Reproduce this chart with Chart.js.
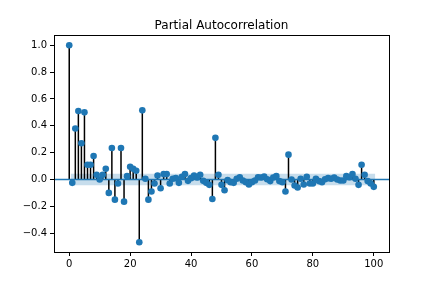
<!DOCTYPE html>
<html>
<head>
<meta charset="utf-8">
<script src="https://cdn.jsdelivr.net/npm/chart.js@4/dist/chart.umd.min.js"></script>
<style>
  html, body { margin: 0; padding: 0; background: #fff; }
  #wrap { width: 432px; height: 288px; }
</style>
</head>
<body>
<div id="wrap"><canvas id="pacf"></canvas></div>
<script>
// ── Data ────────────────────────────────────────────────────────
const PACF = [
  1.0, -0.025, 0.38, 0.51, 0.27, 0.50, 0.11, 0.11, 0.175, 0.035,
  0.0, 0.035, 0.08, -0.10, 0.235, -0.15, -0.03, 0.235, -0.165, 0.025,
  0.095, 0.08, 0.065, -0.467, 0.515, 0.005, -0.15, -0.09, -0.03, 0.03,
  -0.065, 0.04, 0.04, -0.03, 0.005, 0.01, -0.025, 0.02, 0.04, -0.01,
  0.01, 0.03, 0.015, 0.035, -0.01, -0.025, -0.04, -0.145, 0.31, 0.035,
  -0.04, -0.08, -0.005, -0.02, -0.025, 0.005, 0.017, -0.007, -0.02, -0.037,
  -0.02, -0.007, 0.017, 0.015, 0.022, 0.002, -0.012, 0.015, 0.025, -0.012,
  -0.02, -0.09, 0.185, 0.0, -0.045, -0.06, 0.005, -0.037, 0.02, -0.03,
  -0.03, 0.005, -0.012, -0.02, 0.002, 0.01, 0.005, 0.015, 0.0, -0.007,
  -0.007, 0.025, 0.017, 0.04, 0.005, -0.04, 0.11, 0.035, -0.012, -0.03,
  -0.055
];
const LAGS = PACF.map((_, i) => i);
const CONF = 0.042;                       // half width of confidence band
const BAND_X = [0.5, 100.5];
const X_TICKS = [0, 20, 40, 60, 80, 100];
const Y_TICKS = [-0.4, -0.2, 0.0, 0.2, 0.4, 0.6, 0.8, 1.0];
const X_RANGE = [-5, 105];
const Y_RANGE = [-0.54, 1.073];

// ── Colors ──────────────────────────────────────────────────────
const C0 = '#1f77b4';
const BAND_FILL = 'rgba(31,119,180,0.25)';
const STEM = '#000';

const FONT = { family: 'DejaVu Sans', size: 10 };
const fmt = v => (v < 0 ? '\u2212' : '') + Math.abs(v).toFixed(1);

// stems: one line dataset, each stem 0 -> value, broken by a null point
const stemPoints = [];
LAGS.forEach(i => {
  stemPoints.push({ x: i, y: 0 }, { x: i, y: PACF[i] }, { x: i, y: null });
});

// draw the full axes box like matplotlib
const boxPlugin = {
  id: 'box',
  afterDraw(chart) {
    const { ctx, chartArea: a } = chart;
    ctx.save();
    ctx.strokeStyle = '#000';
    ctx.lineWidth = 1;
    ctx.strokeRect(Math.round(a.left) + 0.5, Math.round(a.top) + 0.5,
      Math.round(a.right - a.left), Math.round(a.bottom - a.top));
    ctx.restore();
  }
};

new Chart(document.getElementById('pacf'), {
  type: 'scatter',
  data: {
    datasets: [
      {
        type: 'scatter',
        data: LAGS.map(i => ({ x: i, y: PACF[i] })),
        backgroundColor: C0,
        borderWidth: 0,
        pointRadius: 3.3,
        order: 0,
      },
      {
        type: 'line',
        data: stemPoints,
        borderColor: STEM,
        borderWidth: 1.5,
        borderCapStyle: 'butt',
        pointRadius: 0,
        spanGaps: false,
        order: 2,
      },
      {
        type: 'line',
        data: X_RANGE.map(x => ({ x, y: 0 })),
        borderColor: C0,
        borderWidth: 1.6,
        pointRadius: 0,
        order: 1,
      },
      {
        type: 'line',
        data: BAND_X.map(x => ({ x, y: CONF })),
        borderWidth: 0,
        pointRadius: 0,
        fill: false,
        order: 3,
      },
      {
        type: 'line',
        data: BAND_X.map(x => ({ x, y: -CONF })),
        borderWidth: 0,
        pointRadius: 0,
        backgroundColor: BAND_FILL,
        fill: '-1',
        order: 3,
      },
    ],
  },
  options: {
    responsive: true,
    maintainAspectRatio: false,
    animation: false,
    layout: { padding: { left: 11, right: 0, top: 0, bottom: 0 } },
    plugins: {
      legend: { display: false },
      tooltip: { enabled: false },
      title: {
        display: true,
        text: 'Partial Autocorrelation',
        color: '#000',
        font: { family: 'DejaVu Sans', size: 12, weight: 'normal' },
        padding: { top: 19, bottom: 2 },
      },
    },
    scales: {
      x: {
        type: 'linear',
        min: X_RANGE[0],
        max: X_RANGE[1],
        afterBuildTicks: s => { s.ticks = X_TICKS.map(v => ({ value: v })); },
        afterFit: s => { s.height = 36; },
        ticks: { color: '#000', font: FONT, padding: 2, maxRotation: 0, callback: v => String(v) },
        grid: { drawOnChartArea: false, drawTicks: true, tickLength: 4, color: '#000' },
        border: { display: true, color: '#000', width: 1 },
      },
      y: {
        type: 'linear',
        min: Y_RANGE[0],
        max: Y_RANGE[1],
        afterBuildTicks: s => { s.ticks = Y_TICKS.map(v => ({ value: v })); },
        afterFit: s => { s.width = 43; },
        ticks: { color: '#000', font: FONT, padding: 3, callback: v => fmt(v) },
        grid: { drawOnChartArea: false, drawTicks: true, tickLength: 4, color: '#000' },
        border: { display: true, color: '#000', width: 1 },
      },
      // empty right-hand axis, only keeps the right margin
      yRight: {
        type: 'linear',
        position: 'right',
        min: Y_RANGE[0],
        max: Y_RANGE[1],
        afterFit: s => { s.width = 43; },
        ticks: { display: false },
        grid: { display: false, drawTicks: false },
        border: { display: false },
      },
    },
  },
  plugins: [boxPlugin],
});
</script>
</body>
</html>
